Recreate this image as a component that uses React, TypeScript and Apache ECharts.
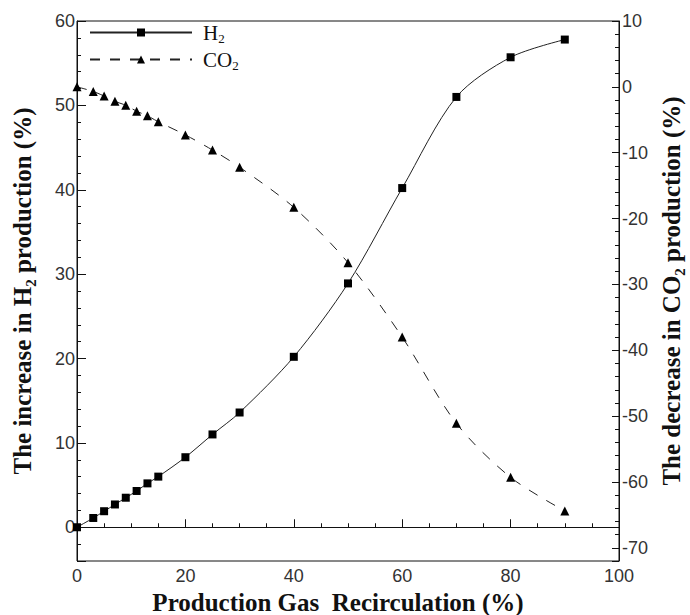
import React, { useEffect, useRef } from "react";
import * as echarts from "echarts";

const recirculation = [0, 3, 5, 7, 9, 11, 13, 15, 20, 25, 30, 40, 50, 60, 70, 80, 90];
const h2Increase = [0, 1.1, 1.9, 2.7, 3.5, 4.3, 5.2, 6.0, 8.3, 11.0, 13.6, 20.2, 28.9, 40.2, 51.0, 55.7, 57.8];
const co2Decrease = [0, -0.7, -1.4, -2.2, -2.8, -3.7, -4.4, -5.3, -7.3, -9.6, -12.2, -18.3, -26.7, -38.0, -51.1, -59.3, -64.4];
const seriesNames = ["H2", "CO2"];

const SERIF = "'Liberation Serif', 'Times New Roman', serif";
const SANS = "'Liberation Sans', Arial, sans-serif";
const INK = "#111";

export default function App() {
  const ref = useRef<HTMLDivElement>(null);

  useEffect(() => {
    document.body.style.margin = "0";
    const chart = echarts.init(ref.current as HTMLDivElement, null, { renderer: "svg" });

    const labelStyle = { fontFamily: SANS, fontSize: 18, color: "#333" };
    const titleSub = {
      fontFamily: SERIF,
      fontSize: 15,
      fontWeight: "bold",
      color: INK,
      verticalAlign: "bottom",
      lineHeight: 32,
    };

    const option: any = {
      animation: false,
      backgroundColor: "#fff",
      grid: {
        left: 77,
        right: 71,
        top: 21,
        bottom: 54,
        containLabel: false,
        outerBoundsMode: "none",
        show: true,
        borderColor: INK,
        borderWidth: 1,
        backgroundColor: "transparent",
      },
      legend: {
        orient: "vertical",
        left: 84,
        top: 15,
        itemWidth: 102,
        itemHeight: 10,
        itemGap: 2,
        data: seriesNames,
        formatter: (name: string) => (name === "H2" ? "H{sub|2}" : "CO{sub|2}"),
        textStyle: {
          fontFamily: SERIF,
          fontSize: 21,
          lineHeight: 25,
          color: INK,
          padding: [0, 0, 0, 6],
          rich: {
            sub: { fontFamily: SERIF, fontSize: 13, color: INK, verticalAlign: "bottom", lineHeight: 25, padding: [0, 0, 0, 0] },
          },
        },
      },
      xAxis: {
        type: "value",
        min: 0,
        max: 100,
        interval: 20,
        position: "bottom",
        axisLine: { lineStyle: { color: INK, width: 1 } },
        axisTick: { inside: true, length: 8, lineStyle: { color: INK } },
        minorTick: { show: true, splitNumber: 4, length: 4, lineStyle: { color: INK } },
        splitLine: { show: false },
        axisLabel: { ...labelStyle, margin: 6 },
        name: "Production Gas  Recirculation (%)",
        nameLocation: "middle",
        nameGap: 28,
        nameTextStyle: { fontFamily: SERIF, fontSize: 25, fontWeight: "bold", color: INK, padding: [0, 20, 0, 0] },
      },
      yAxis: [
        {
          type: "value",
          position: "left",
          min: -4,
          max: 60,
          splitNumber: 6,
          axisLine: { show: true, lineStyle: { color: INK, width: 1 } },
          axisTick: { show: true, inside: true, length: 9, lineStyle: { color: INK } },
          splitLine: { show: false },
          axisLabel: {
            ...labelStyle,
            margin: 2,
            formatter: (v: number) => (Math.abs(v % 10) < 1e-9 ? String(v) : ""),
          },
          name: "The increase in H{sub|2} production (%)",
          nameLocation: "middle",
          nameRotate: 90,
          nameGap: 39,
          nameTextStyle: {
            fontFamily: SERIF,
            fontSize: 25,
            fontWeight: "bold",
            color: INK,
            rich: { sub: titleSub },
          },
        },
        {
          type: "value",
          position: "left",
          min: -4,
          max: 60,
          interval: 2,
          axisLine: { show: false },
          axisTick: { show: true, inside: true, length: 4, lineStyle: { color: INK } },
          axisLabel: { show: false },
          splitLine: { show: false },
        },
        {
          type: "value",
          position: "right",
          min: -72,
          max: 10,
          splitNumber: 8,
          axisLine: { show: true, lineStyle: { color: INK, width: 1 } },
          axisTick: { show: true, inside: true, length: 7, lineStyle: { color: INK } },
          splitLine: { show: false },
          axisLabel: {
            ...labelStyle,
            margin: 3,
            formatter: (v: number) => (Math.abs(v % 10) < 1e-9 ? String(v) : ""),
          },
          name: "The decrease in CO{sub|2} production (%)",
          nameLocation: "middle",
          nameRotate: 90,
          nameGap: 33,
          nameTextStyle: {
            fontFamily: SERIF,
            fontSize: 25,
            fontWeight: "bold",
            color: INK,
            rich: { sub: titleSub },
          },
        },
        {
          type: "value",
          position: "right",
          min: -72,
          max: 10,
          interval: 2,
          axisLine: { show: false },
          axisTick: { show: true, inside: true, length: 4, lineStyle: { color: INK } },
          axisLabel: { show: false },
          splitLine: { show: false },
        },
      ],
      series: [
        {
          name: "H2",
          type: "line",
          yAxisIndex: 0,
          data: recirculation.map((x, i) => [x, h2Increase[i]]),
          smooth: 0.3,
          symbol: "rect",
          symbolSize: 8,
          itemStyle: { color: "#000" },
          lineStyle: { color: "#222", width: 1, type: "solid" },
        },
        {
          name: "CO2",
          type: "line",
          yAxisIndex: 2,
          data: recirculation.map((x, i) => [x, co2Decrease[i]]),
          smooth: 0.3,
          symbol: "triangle",
          symbolSize: 9,
          itemStyle: { color: "#000" },
          lineStyle: { color: "#222", width: 1, type: [10, 10] },
        },
      ],
    };

    chart.setOption(option);
    return () => chart.dispose();
  }, []);

  return <div ref={ref} style={{ position: "absolute", left: 0, top: 0, width: 690, height: 615 }} />;
}
